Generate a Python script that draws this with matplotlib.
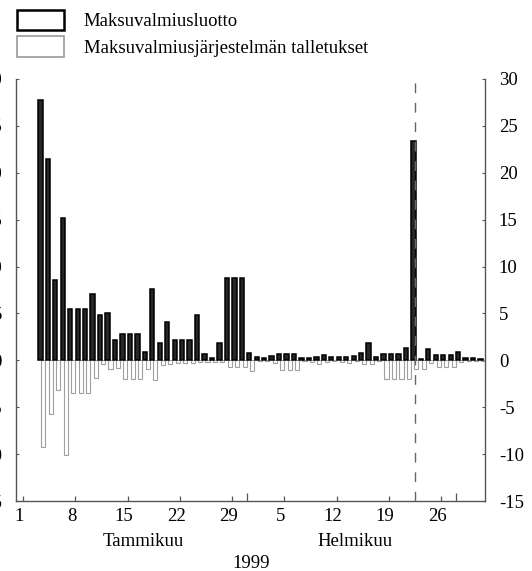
import matplotlib
matplotlib.use("Agg")
import matplotlib.pyplot as plt
from matplotlib.patches import Patch
import numpy as np

# day index: 0 = 1 Jan 1999, data starts Mon 4 Jan (index 3)
first_day = 3
luotto = [27.8, 21.5, 8.6, 15.2, 5.5, 5.5, 5.5, 7.1, 4.8, 5.0,
          2.2, 2.8, 2.8, 2.8, 0.9, 7.6, 1.8, 4.1, 2.2, 2.2,
          2.2, 4.8, 0.7, 0.2, 1.85, 8.8, 8.8, 8.8, 0.8, 0.4,
          0.25, 0.45, 0.7, 0.7, 0.7, 0.28, 0.22, 0.38, 0.55, 0.39,
          0.39, 0.39, 0.46, 0.75, 1.8, 0.36, 0.71, 0.71, 0.71, 1.35,
          23.4, 0.16, 1.17, 0.53, 0.53, 0.53, 0.89, 0.28, 0.28, 0.14]
talletukset = [-9.2, -5.7, -3.2, -10.1, -3.45, -3.45, -3.45, -1.85, -0.43, -0.96,
               -0.85, -2.0, -2.0, -2.0, -0.96, -2.1, -0.55, -0.36, -0.25, -0.25,
               -0.25, -0.2, -0.2, -0.2, -0.2, -0.7, -0.7, -0.7, -1.1, -0.1,
               -0.1, -0.3, -1.03, -1.03, -1.03, -0.1, -0.15, -0.35, -0.15, -0.1,
               -0.2, -0.3, -0.1, -0.4, -0.43, -0.1, -1.96, -1.96, -1.96, -1.96,
               -0.96, -0.9, -0.3, -0.68, -0.68, -0.68, -0.2, -0.1, -0.1, -0.1]

tick_days = [0, 7, 14, 21, 28, 35, 42, 49, 56]
tick_labels = ["1", "8", "15", "22", "29", "5", "12", "19", "26"]
month_ends = [30.5, 58.5]
months = ["Tammikuu", "Helmikuu"]
month_pos = [16.6, 45.0]
year_label = "1999"
event_day = 53

plt.rcParams['font.family'] = ['Liberation Serif', 'DejaVu Serif']
plt.rcParams['axes.unicode_minus'] = False
FS = 13.5
SPINE = '#555555'


def main():
    fig = plt.figure(figsize=(5.32, 5.71), dpi=100)
    ax = fig.add_axes([16 / 532, 1 - 501 / 571, (485 - 16) / 532, (501 - 79) / 571])

    days = np.arange(first_day, first_day + len(luotto))
    ax.bar(days - 0.2, luotto, width=0.58, facecolor='#262626',
           edgecolor='black', linewidth=1.1, zorder=3)
    ax.bar(days + 0.2, talletukset, width=0.55, facecolor='white',
           edgecolor='#a0a0a0', linewidth=0.8, zorder=2)

    ax.axvline(event_day, color='#666666', linewidth=1.0,
               linestyle=(0, (7, 7)), zorder=4)

    ax.set_xlim(-0.47, 62.4)
    ax.set_ylim(-15, 30)
    ax.set_yticks(range(-15, 31, 5))
    ax.tick_params(axis='y', which='both', direction='in', length=2.5,
                   color=SPINE, labelsize=FS, left=True, right=True,
                   labelleft=True, labelright=True)
    ax.tick_params(axis='y', which='major', pad=10)

    ax.set_xticks(tick_days)
    ax.set_xticklabels(tick_labels)
    ax.set_xticks([d + 0.5 for d in tick_days], minor=True)
    ax.tick_params(axis='x', which='major', length=0, labelsize=FS, pad=5)
    ax.tick_params(axis='x', which='minor', direction='in', length=3.5,
                   color=SPINE, width=0.9)
    ax.vlines(month_ends, 0, 0.02, transform=ax.get_xaxis_transform(),
              color=SPINE, linewidth=0.9)

    ax.spines['top'].set_visible(False)
    for side in ['left', 'right', 'bottom']:
        ax.spines[side].set_color(SPINE)
        ax.spines[side].set_linewidth(1.0)

    for name, pos in zip(months, month_pos):
        ax.text(pos, -0.095, name, transform=ax.get_xaxis_transform(),
                ha='center', va='center', fontsize=FS)
    ax.text(31.0, -0.148, year_label, transform=ax.get_xaxis_transform(),
            ha='center', va='center', fontsize=FS)

    handles = [Patch(facecolor='white', edgecolor='black', linewidth=1.8),
               Patch(facecolor='white', edgecolor='#9a9a9a', linewidth=1.2)]
    fig.legend(handles, ["Maksuvalmiusluotto",
                         "Maksuvalmiusjärjestelmän talletukset"],
               loc='upper left', bbox_to_anchor=(17 / 532, 1 - 10 / 571),
               frameon=False, borderpad=0, borderaxespad=0,
               fontsize=FS, handlelength=2.5, handleheight=1.3,
               handletextpad=1.07, labelspacing=0.3)

    fig.savefig("out.png", dpi=100)


if __name__ == "__main__":
    main()
